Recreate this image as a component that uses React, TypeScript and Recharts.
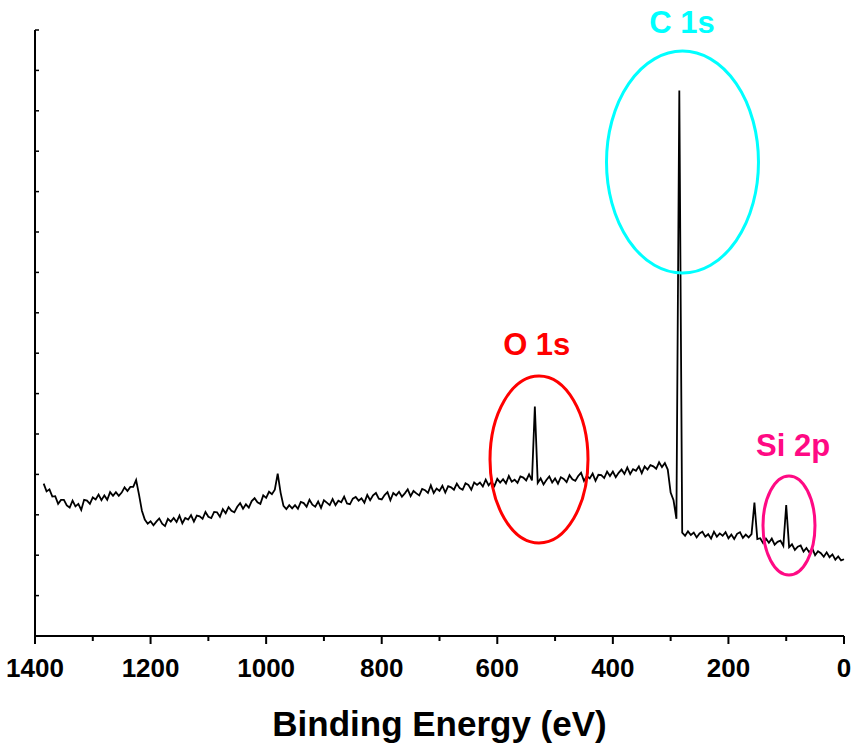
import { Line, LineChart, ReferenceDot, XAxis, YAxis } from 'recharts';

// binding energy (eV), 5 eV steps from 1385 down to 0
const bindingEnergy = [
  1385, 1380, 1375, 1370, 1365, 1360, 1355, 1350, 1345, 1340,
  1335, 1330, 1325, 1320, 1315, 1310, 1305, 1300, 1295, 1290,
  1285, 1280, 1275, 1270, 1265, 1260, 1255, 1250, 1245, 1240,
  1235, 1230, 1225, 1220, 1215, 1210, 1205, 1200, 1195, 1190,
  1185, 1180, 1175, 1170, 1165, 1160, 1155, 1150, 1145, 1140,
  1135, 1130, 1125, 1120, 1115, 1110, 1105, 1100, 1095, 1090,
  1085, 1080, 1075, 1070, 1065, 1060, 1055, 1050, 1045, 1040,
  1035, 1030, 1025, 1020, 1015, 1010, 1005, 1000, 995, 990,
  985, 980, 975, 970, 965, 960, 955, 950, 945, 940,
  935, 930, 925, 920, 915, 910, 905, 900, 895, 890,
  885, 880, 875, 870, 865, 860, 855, 850, 845, 840,
  835, 830, 825, 820, 815, 810, 805, 800, 795, 790,
  785, 780, 775, 770, 765, 760, 755, 750, 745, 740,
  735, 730, 725, 720, 715, 710, 705, 700, 695, 690,
  685, 680, 675, 670, 665, 660, 655, 650, 645, 640,
  635, 630, 625, 620, 615, 610, 605, 600, 595, 590,
  585, 580, 575, 570, 565, 560, 555, 550, 545, 540,
  535, 530, 525, 520, 515, 510, 505, 500, 495, 490,
  485, 480, 475, 470, 465, 460, 455, 450, 445, 440,
  435, 430, 425, 420, 415, 410, 405, 400, 395, 390,
  385, 380, 375, 370, 365, 360, 355, 350, 345, 340,
  335, 330, 325, 320, 315, 310, 305, 300, 295, 290,
  285, 280, 275, 270, 265, 260, 255, 250, 245, 240,
  235, 230, 225, 220, 215, 210, 205, 200, 195, 190,
  185, 180, 175, 170, 165, 160, 155, 150, 145, 140,
  135, 130, 125, 120, 115, 110, 105, 100, 95, 90,
  85, 80, 75, 70, 65, 60, 55, 50, 45, 40,
  35, 30, 25, 20, 15, 10, 5, 0,
];

// intensity (a.u.)
const intensity = [
  3.77, 3.58, 3.63, 3.45, 3.46, 3.27, 3.37, 3.37, 3.23, 3.18,
  3.35, 3.21, 3.27, 3.12, 3.37, 3.35, 3.27, 3.43, 3.38, 3.50,
  3.36, 3.48, 3.37, 3.56, 3.47, 3.56, 3.47, 3.55, 3.68, 3.59,
  3.69, 3.69, 3.86, 3.50, 3.10, 2.88, 2.78, 2.84, 2.74, 2.83,
  2.91, 2.78, 2.72, 2.90, 2.83, 2.92, 2.82, 2.98, 2.79, 2.92,
  2.88, 2.99, 2.83, 2.98, 2.96, 2.90, 3.07, 2.95, 2.92, 3.07,
  3.06, 2.95, 3.14, 3.04, 3.19, 3.10, 3.06, 3.20, 3.29, 3.15,
  3.26, 3.18, 3.34, 3.41, 3.31, 3.27, 3.48, 3.42, 3.57, 3.51,
  3.62, 4.02, 3.55, 3.22, 3.14, 3.24, 3.16, 3.24, 3.15, 3.32,
  3.29, 3.20, 3.37, 3.25, 3.20, 3.33, 3.17, 3.36, 3.30, 3.24,
  3.39, 3.24, 3.35, 3.31, 3.45, 3.28, 3.26, 3.40, 3.44, 3.35,
  3.41, 3.30, 3.49, 3.36, 3.48, 3.54, 3.40, 3.38, 3.49, 3.56,
  3.36, 3.54, 3.48, 3.57, 3.45, 3.53, 3.63, 3.46, 3.59, 3.53,
  3.48, 3.64, 3.61, 3.54, 3.73, 3.54, 3.65, 3.59, 3.72, 3.55,
  3.71, 3.68, 3.62, 3.77, 3.66, 3.62, 3.78, 3.74, 3.62, 3.80,
  3.74, 3.80, 3.70, 3.87, 3.73, 3.82, 3.71, 3.89, 3.80, 3.88,
  3.78, 3.96, 3.82, 3.87, 3.79, 3.95, 3.92, 3.85, 4.00, 3.85,
  5.68, 3.79, 3.90, 3.75, 3.86, 3.95, 3.80, 3.90, 3.77, 3.93,
  3.89, 3.81, 3.98, 3.88, 3.84, 3.96, 4.04, 3.84, 3.96, 3.90,
  4.02, 3.84, 3.99, 3.98, 3.91, 4.07, 3.96, 4.07, 3.93, 4.04,
  4.12, 4.01, 4.17, 4.01, 4.13, 4.09, 4.20, 4.03, 4.20, 4.12,
  4.23, 4.20, 4.14, 4.30, 4.18, 4.28, 4.12, 3.55, 3.36, 2.90,
  13.50, 2.56, 2.48, 2.59, 2.50, 2.56, 2.44, 2.54, 2.58, 2.46,
  2.52, 2.41, 2.58, 2.46, 2.54, 2.48, 2.57, 2.42, 2.51, 2.40,
  2.53, 2.57, 2.43, 2.51, 2.44, 2.52, 3.30, 2.40, 2.42, 2.30,
  2.41, 2.31, 2.41, 2.26, 2.33, 2.36, 2.23, 3.24, 2.20, 2.27,
  2.13, 2.21, 2.24, 2.09, 2.18, 2.07, 2.17, 2.00, 2.10, 2.05,
  1.96, 2.07, 1.95, 2.02, 1.89, 1.97, 1.87, 1.90,
];

const xTicks = [0, 100, 200, 300, 400, 500, 600, 700, 800, 900, 1000, 1100, 1200, 1300, 1400];
const yTicks = [0, 1, 2, 3, 4, 5, 6, 7, 8, 9, 10, 11, 12, 13, 14, 15];

const spectrum = bindingEnergy.map((e, i) => ({ energy: e, counts: intensity[i] }));

const FONT = '"Liberation Sans", Arial, sans-serif';

const XTick = (props: any) => {
  const { x, y, payload } = props;
  const major = payload.value % 200 === 0;
  return (
    <g>
      <line x1={x} x2={x} y1={y} y2={y + (major ? 8 : 5)} stroke="#000" strokeWidth={2} />
      {major && (
        <text x={x} y={y + 41} textAnchor="middle" fontFamily={FONT} fontWeight="bold" fontSize={26} fill="#000">
          {payload.value}
        </text>
      )}
    </g>
  );
};

const YTick = (props: any) => {
  const { x, y } = props;
  return <line x1={x} x2={x + 4} y1={y} y2={y} stroke="#000" strokeWidth={1.5} />;
};

const ellipse = (rx: number, ry: number, color: string) => (p: any) =>
  <ellipse cx={p.cx} cy={p.cy} rx={rx} ry={ry} fill="none" stroke={color} strokeWidth={3} />;

const tag = (text: string, color: string) => (p: any) => (
  <text x={p.cx} y={p.cy} textAnchor="middle" fontFamily={FONT} fontWeight="bold" fontSize={31} fill={color}>
    {text}
  </text>
);

export default function App() {
  return (
    <div style={{ position: 'absolute', left: 0, top: 0, background: '#fff' }}>
      <LineChart width={854} height={744} data={spectrum} margin={{ top: 30, right: 10, bottom: 8, left: 0 }}>
        <XAxis
          dataKey="energy"
          type="number"
          domain={[0, 1400]}
          ticks={xTicks}
          reversed
          height={100}
          tickSize={0}
          tickMargin={0}
          tickLine={false}
          tick={<XTick />}
          axisLine={{ stroke: '#000', strokeWidth: 2 }}
          label={{
            value: 'Binding Energy (eV)',
            position: 'insideBottom',
            offset: 0,
            fontFamily: FONT,
            fontWeight: 'bold',
            fontSize: 35,
            fill: '#000',
          }}
        />
        <YAxis
          type="number"
          domain={[0, 15]}
          ticks={yTicks}
          width={35}
          tickSize={0}
          tickMargin={0}
          tickLine={false}
          tick={<YTick />}
          axisLine={{ stroke: '#000', strokeWidth: 2 }}
        />
        <Line
          dataKey="counts"
          type="linear"
          stroke="#000"
          strokeWidth={1.8}
          dot={false}
          isAnimationActive={false}
        />
        <ReferenceDot x={279.5} y={11.73} shape={ellipse(76, 111, '#00FFFF')} ifOverflow="visible" />
        <ReferenceDot x={527.8} y={4.37} shape={ellipse(49, 83.5, '#FF0000')} ifOverflow="visible" />
        <ReferenceDot x={95.2} y={2.735} shape={ellipse(26, 49.5, '#FF0A84')} ifOverflow="visible" />
        <ReferenceDot x={280.3} y={14.93} shape={tag('C 1s', '#00FFFF')} ifOverflow="visible" />
        <ReferenceDot x={531.7} y={6.955} shape={tag('O 1s', '#FF0000')} ifOverflow="visible" />
        <ReferenceDot x={88.2} y={4.455} shape={tag('Si 2p', '#FF0A84')} ifOverflow="visible" />
      </LineChart>
    </div>
  );
}
